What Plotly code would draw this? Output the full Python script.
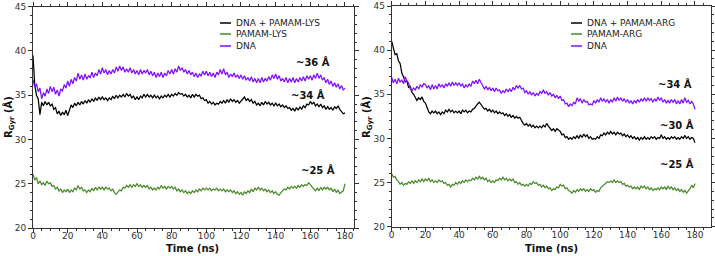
import plotly.graph_objects as go

# ---------------- data (1 ns spacing) ----------------
lys_complex = [
    39.5, 36.2, 35.0, 34.6, 32.8, 34.2, 33.8, 34.3, 33.9, 34.2,
    33.8, 34.0, 33.4, 33.6, 32.9, 33.2, 32.7, 33.1, 32.8, 33.3,
    32.7, 33.4, 33.9, 33.6, 34.1, 33.8, 34.2, 33.9, 34.3, 34.0,
    34.4, 34.1, 34.5, 34.2, 34.6, 34.3, 34.7, 34.4, 34.8, 34.5,
    34.8, 34.5, 34.7, 34.4, 34.7, 34.5, 34.9, 34.6, 35.0, 34.7,
    35.0, 34.8, 35.1, 34.8, 35.2, 34.9, 35.1, 34.7, 34.9, 34.5,
    34.8, 34.5, 34.9, 34.7, 35.1, 34.8, 35.1, 34.8, 35.0, 34.7,
    35.0, 34.7, 34.9, 34.6, 34.9, 34.7, 35.0, 34.8, 35.1, 34.8,
    35.1, 34.9, 35.2, 35.0, 35.3, 35.1, 35.2, 34.9, 35.1, 34.8,
    35.0, 34.7, 35.1, 34.8, 35.1, 34.9, 35.0, 34.6, 34.7, 34.4,
    34.5, 34.1, 34.3, 34.0, 34.2, 33.9, 34.1, 34.0, 34.3, 34.1,
    34.4, 34.1, 34.5, 34.2, 34.6, 34.3, 34.5, 34.2, 34.4, 34.1,
    34.3, 34.5, 34.8, 34.4, 34.6, 34.3, 34.5, 34.1, 34.3, 33.9,
    34.1, 33.8, 34.2, 33.9, 34.3, 34.0, 34.2, 33.9, 34.1, 33.8,
    34.1, 33.8, 34.0, 33.7, 33.9, 33.6, 33.8, 33.5, 33.6, 33.3,
    33.5, 33.2, 33.6, 33.3, 33.7, 33.4, 33.8, 33.6, 34.0, 33.9,
    34.3, 34.0, 34.2, 33.8, 34.0, 33.7, 34.0, 33.6, 33.8, 33.4,
    33.7, 33.4, 33.6, 33.3, 33.7, 33.5, 33.8, 33.4, 33.2, 32.9,
    33.0,
]
lys_pamam = [
    26.1, 25.4, 25.7, 25.0, 25.3, 24.9, 25.1, 24.8, 25.3, 25.0,
    25.1, 24.7, 24.8, 24.4, 24.6, 24.2, 24.4, 24.0, 24.3, 24.1,
    24.4, 24.0, 24.3, 24.1, 24.5, 24.3, 24.8, 24.4, 24.6, 24.2,
    24.3, 24.0, 24.3, 24.1, 24.5, 24.2, 24.6, 24.3, 24.6, 24.4,
    24.6, 24.3, 24.6, 24.4, 24.5, 24.2, 24.4, 24.0, 23.8, 24.1,
    24.3, 24.2, 24.6, 24.5, 24.8, 24.6, 24.9, 24.6, 24.9, 24.7,
    25.0, 24.7, 24.9, 24.6, 24.8, 24.6, 24.8, 24.4, 24.6, 24.3,
    24.5, 24.3, 24.6, 24.4, 24.8, 24.5, 24.7, 24.4, 24.7, 24.5,
    24.7, 24.4, 24.6, 24.2, 24.4, 24.1, 24.3, 24.0, 24.2, 23.9,
    24.1, 23.9, 24.2, 24.0, 24.3, 24.1, 24.4, 24.2, 24.5, 24.3,
    24.5, 24.3, 24.5, 24.2, 24.4, 24.3, 24.5, 24.2, 24.4, 24.2,
    24.4, 24.1, 24.3, 24.1, 24.3, 24.0, 24.2, 23.9, 24.1, 23.8,
    24.0, 23.7, 24.1, 23.9, 24.2, 24.0, 24.4, 24.1, 24.5, 24.3,
    24.6, 24.3, 24.5, 24.2, 24.4, 24.1, 24.3, 24.0, 24.2, 23.9,
    24.1, 23.8, 23.7, 24.0, 24.2, 24.4, 24.3, 24.6, 24.4, 24.7,
    24.5, 24.7, 24.5, 24.8, 24.6, 24.9, 24.7, 24.9, 24.8, 25.1,
    24.9, 24.6, 24.4, 24.2, 24.5, 24.2, 24.6, 24.3, 24.6, 24.4,
    24.6, 24.3, 24.5, 24.1, 24.4, 24.0, 24.3, 23.9, 24.1, 24.2,
    25.0,
]
lys_dna = [
    36.8, 35.9, 36.3, 35.4, 35.8, 34.6, 35.3, 34.9, 35.7, 35.2,
    36.0, 35.4, 35.9, 35.1, 35.6, 34.9, 35.7, 35.5, 36.2, 35.8,
    36.6, 36.0, 36.8, 36.3, 37.0, 36.6, 37.5, 36.8, 37.3, 36.7,
    37.4, 36.8, 37.2, 37.0, 37.6, 37.0, 37.5, 37.2, 37.9, 37.4,
    38.1, 37.5, 37.9, 37.3, 37.8, 37.4, 37.9, 37.5, 38.2, 37.7,
    38.3, 37.8, 38.2, 37.6, 38.0, 37.6, 38.1, 37.5, 37.9, 37.4,
    37.8, 37.3, 37.9, 37.4, 37.8, 37.5, 37.9, 37.3, 37.7, 37.2,
    37.6, 37.0, 37.5, 37.1, 37.6, 37.0, 37.5, 37.2, 37.8, 37.4,
    37.9, 37.4, 38.0, 37.6, 38.3, 37.8, 38.1, 37.6, 37.9, 37.4,
    37.8, 37.3, 37.6, 37.1, 37.5, 37.0, 37.4, 37.2, 37.7, 37.3,
    37.7, 37.2, 37.6, 37.1, 37.5, 37.0, 37.6, 37.3, 37.9, 37.4,
    38.0, 37.3, 37.6, 37.0, 37.4, 37.1, 37.5, 37.0, 37.3, 36.9,
    37.3, 36.8, 37.2, 36.7, 37.0, 36.6, 37.1, 36.5, 36.9, 36.4,
    36.9, 36.4, 37.0, 36.5, 36.9, 36.6, 37.1, 36.7, 37.3, 36.9,
    37.4, 36.8, 37.2, 36.6, 36.9, 36.5, 37.0, 36.4, 36.9, 36.5,
    37.0, 36.4, 36.9, 36.5, 37.0, 36.6, 37.1, 36.6, 37.2, 36.8,
    37.2, 36.7, 37.3, 36.9, 37.5, 36.9, 37.3, 36.7, 37.0, 36.4,
    36.8, 36.2, 36.6, 36.0, 36.4, 35.9, 36.3, 35.7, 36.1, 35.6,
    35.8,
]
arg_complex = [
    41.0, 40.3, 39.5, 39.6, 38.8, 38.5, 37.4, 37.0, 36.4, 36.5,
    35.8, 35.9, 35.2, 35.0, 34.6, 34.3, 34.6, 34.4, 34.7, 34.2,
    34.0, 33.4, 33.0, 32.8, 33.1, 32.9, 33.1, 32.8, 33.0, 32.7,
    33.0, 32.8, 33.2, 33.0, 33.3, 33.0, 33.2, 32.9, 33.1, 32.9,
    33.1, 32.8, 33.2, 33.0, 33.2, 32.9, 33.1, 33.0, 33.3, 33.4,
    33.7, 33.9, 34.1, 33.8, 33.6, 33.3, 33.4, 33.1, 33.3, 33.0,
    33.2, 32.9, 33.1, 32.8, 33.0, 32.8, 32.9, 32.6, 32.8, 32.5,
    32.7, 32.4, 32.6, 32.3, 32.5, 32.3, 32.4, 32.0, 31.7, 31.5,
    31.7, 31.4, 31.6, 31.3, 31.5, 31.2, 31.4, 31.2, 31.4, 31.2,
    31.5, 31.3, 31.7, 31.4, 31.2, 30.9, 31.1, 30.8, 31.1, 30.9,
    30.8, 30.4, 30.5, 30.1, 30.2, 29.9, 30.1, 29.9, 30.2, 30.0,
    30.3, 30.0, 30.4, 30.1, 30.5, 30.2, 30.4, 30.0, 30.2, 29.9,
    30.0, 29.9, 30.2, 30.0, 30.4, 30.3, 30.6, 30.4, 30.7, 30.5,
    30.8, 30.5, 30.7, 30.4, 30.7, 30.5, 30.6, 30.3, 30.5, 30.2,
    30.4, 30.1, 30.3, 30.0, 30.2, 29.9, 30.1, 29.8, 30.1, 29.9,
    30.2, 29.9, 30.1, 29.9, 30.2, 30.0, 30.2, 29.9, 30.1, 30.0,
    30.4, 30.0, 30.2, 29.9, 30.1, 29.9, 30.2, 30.0, 30.2, 29.9,
    30.1, 29.9, 30.2, 30.0, 30.3, 30.0, 30.2, 29.9, 30.1, 30.0,
    29.5,
]
arg_pamam = [
    26.0, 25.6, 25.7, 25.3, 25.1, 24.8, 25.0, 24.7, 24.9, 24.8,
    25.1, 24.9, 25.2, 24.9, 25.2, 25.0, 25.3, 25.1, 25.4, 25.1,
    25.4, 25.2, 25.5, 25.1, 25.3, 25.0, 25.2, 25.0, 25.3, 25.1,
    25.2, 24.9, 25.0, 24.7, 24.8, 24.5, 24.8, 24.7, 25.0, 24.8,
    25.1, 24.9, 25.2, 25.0, 25.3, 25.1, 25.3, 25.2, 25.5, 25.3,
    25.6, 25.4, 25.7, 25.4, 25.6, 25.3, 25.5, 25.1, 25.3, 25.0,
    25.2, 25.0, 25.3, 25.2, 25.5, 25.3, 25.6, 25.3, 25.5, 25.2,
    25.4, 25.2, 25.4, 25.0, 25.1, 24.8, 25.0, 24.7, 24.8, 24.6,
    24.8, 24.6, 24.9, 24.8, 25.1, 24.9, 25.0, 24.7, 24.8, 24.5,
    24.7, 24.4, 24.6, 24.3, 24.4, 24.1, 24.3, 24.2, 24.5, 24.4,
    24.8, 24.6, 24.7, 24.3, 24.4, 24.1, 24.0, 23.8, 24.1, 23.9,
    24.2, 24.0, 24.3, 24.1, 24.3, 24.0, 24.2, 24.0, 24.3, 24.1,
    24.2, 23.9, 24.1, 24.0, 24.4, 24.6, 24.8, 24.9, 25.1, 25.0,
    25.2, 25.0, 25.3, 25.0, 25.2, 25.0, 25.1, 24.8, 24.9, 24.6,
    24.7, 24.5, 24.6, 24.3, 24.5, 24.3, 24.5, 24.2, 24.6, 24.4,
    24.6, 24.3, 24.5, 24.2, 24.4, 24.1, 24.3, 24.2, 24.4, 24.2,
    24.5, 24.3, 24.5, 24.2, 24.6, 24.3, 24.5, 24.2, 24.4, 24.1,
    24.3, 24.0, 24.2, 23.9, 24.1, 23.8, 24.0, 24.3, 24.7, 24.4,
    24.9,
]
arg_dna = [
    36.9, 36.3, 36.7, 36.2, 36.8, 36.4, 36.6, 36.2, 37.0, 36.5,
    36.3, 35.6, 35.4, 35.7, 35.5, 35.9, 35.6, 36.1, 35.8, 36.2,
    36.1, 35.7, 36.0, 35.5, 36.1, 35.6, 36.0, 35.6, 36.2, 35.8,
    36.1, 35.7, 36.2, 35.9, 36.3, 35.9, 36.4, 36.0, 36.3, 36.0,
    36.3, 35.9, 36.2, 35.7, 36.1, 35.8, 36.2, 35.9, 36.5, 36.2,
    36.6, 36.2, 36.7, 36.3, 36.0, 35.6, 35.9, 35.5, 35.8, 35.4,
    35.7, 35.3, 35.7, 35.4, 35.5, 35.1, 35.4, 35.2, 35.6, 35.3,
    35.6, 35.3, 35.8, 35.5, 36.0, 35.7, 36.0, 35.6, 35.7, 35.2,
    35.4, 35.0, 35.3, 34.9, 35.2, 34.8, 35.1, 34.9, 35.3, 35.1,
    35.5, 35.1, 35.3, 34.9, 35.2, 34.8, 35.0, 34.6, 34.9, 34.5,
    34.8, 34.3, 34.4, 33.9, 34.0, 33.6, 33.9, 33.7, 34.1, 33.9,
    34.6, 34.2, 34.5, 34.0, 34.4, 34.1, 34.2, 33.8, 33.9, 33.8,
    34.3, 34.0, 34.4, 34.1, 34.6, 34.2, 34.5, 34.1, 34.4, 34.0,
    34.4, 34.1, 34.6, 34.2, 34.7, 34.3, 34.6, 34.2, 34.5, 34.1,
    34.4, 34.0, 34.3, 33.9, 34.3, 34.0, 34.4, 34.1, 34.5, 34.2,
    34.6, 34.2, 34.6, 34.3, 34.5, 34.1, 34.5, 34.2, 34.7, 34.3,
    34.6, 34.1, 34.4, 34.0, 34.3, 34.0, 34.4, 34.1, 34.4, 33.9,
    34.3, 33.9, 34.4, 34.0, 34.6, 34.1, 34.3, 33.9, 34.2, 33.9,
    33.3,
]
time_ns = list(range(len(lys_dna)))

legend_lys = ["DNA + PAMAM-LYS", "PAMAM-LYS", "DNA"]
legend_arg = ["DNA + PAMAM-ARG", "PAMAM-ARG", "DNA"]
labels_lys = ["~36 Å", "~34 Å", "~25 Å"]
labels_arg = ["~34 Å", "~30 Å", "~25 Å"]
x_title = "Time (ns)"
y_title = "R<sub>Gyr</sub> (Å)"
x_ticks = [0, 20, 40, 60, 80, 100, 120, 140, 160, 180]
y_ticks = [20, 25, 30, 35, 40, 45]

colors = ["#000000", "#4a8a2a", "#7f10ff"]
W, H = 715, 256
FONT = "DejaVu Sans"


def px(x):
    return x / W


def py(y):
    return 1 - y / H


fig = go.Figure()

panels = [
    dict(series=[lys_complex, lys_pamam, lys_dna], xa="x", ya="y"),
    dict(series=[arg_complex, arg_pamam, arg_dna], xa="x2", ya="y2"),
]
for p in panels:
    for s, c in zip(p["series"], colors):
        fig.add_trace(go.Scatter(x=time_ns[:len(s)], y=s, mode="lines",
                                 line=dict(color=c, width=1.25),
                                 xaxis=p["xa"], yaxis=p["ya"], showlegend=False,
                                 hoverinfo="skip"))

axis_common = dict(
    showline=True, linecolor="#333333", linewidth=1, mirror="ticks",
    ticks="outside", ticklen=4, tickcolor="#333333", tickwidth=1,
    showgrid=False, zeroline=False, automargin=False,
    tickfont=dict(family=FONT, size=9, color="#333333"),
)
xdef = dict(axis_common, tickvals=x_ticks, ticklabelstandoff=-5,
            minor=dict(ticks="outside", ticklen=2, dtick=5, tick0=0, tickcolor="#333333"))
ydef = dict(axis_common, tickvals=y_ticks, range=[20, 45],
            minor=dict(ticks="outside", ticklen=2, dtick=1, tick0=20, tickcolor="#333333"))

fig.update_layout(
    width=W, height=H, margin=dict(l=0, r=0, t=0, b=0),
    paper_bgcolor="white", plot_bgcolor="white",
    xaxis=dict(xdef, domain=[px(33), px(354)], range=[0, 185.2], anchor="y"),
    yaxis=dict(ydef, domain=[py(228), py(6.7)], anchor="x"),
    xaxis2=dict(xdef, domain=[px(391.7), px(711)], range=[0, 189.5], anchor="y2"),
    yaxis2=dict(ydef, domain=[py(226.7), py(6)], anchor="x2"),
)

shapes = []
annotations = []
# axis titles
for xc, yc in [(193, 248), (551, 248)]:
    annotations.append(dict(xref="paper", yref="paper", x=px(xc), y=py(yc), text="<b>" + x_title + "</b>",
                            showarrow=False, xanchor="center", yanchor="middle",
                            font=dict(family=FONT, size=10, color="#111111")))
for xc, yc in [(9, 117), (367, 117)]:
    annotations.append(dict(xref="paper", yref="paper", x=px(xc), y=py(yc), text="<b>" + y_title + "</b>",
                            showarrow=False, xanchor="center", yanchor="middle", textangle=-90,
                            font=dict(family=FONT, size=10, color="#111111")))
# manual legends
for names, lx in [(legend_lys, 220), (legend_arg, 571)]:
    for name, c, ly in zip(names, colors, [23, 34, 46]):
        shapes.append(dict(type="line", xref="paper", yref="paper",
                           x0=px(lx), x1=px(lx + 11), y0=py(ly), y1=py(ly),
                           line=dict(color=c, width=1.5)))
        annotations.append(dict(xref="paper", yref="paper", x=px(lx + 14), y=py(ly),
                                text=name, showarrow=False, xanchor="left", yanchor="middle",
                                font=dict(family=FONT, size=9, color="#222222")))
# value labels
for labs, pos in [(labels_lys, [(313, 62), (308, 95), (318, 170)]),
                  (labels_arg, [(675, 84), (677, 125), (677, 164)])]:
    for t, (x, y) in zip(labs, pos):
        annotations.append(dict(xref="paper", yref="paper", x=px(x), y=py(y), text="<b>" + t + "</b>",
                                showarrow=False, xanchor="center", yanchor="middle",
                                font=dict(family=FONT, size=10, color="#111111")))

fig.update_layout(shapes=shapes, annotations=annotations)
fig.write_html("out.html", config={"displayModeBar": False},
               post_script="document.body.style.margin='0';document.body.style.padding='0';")
